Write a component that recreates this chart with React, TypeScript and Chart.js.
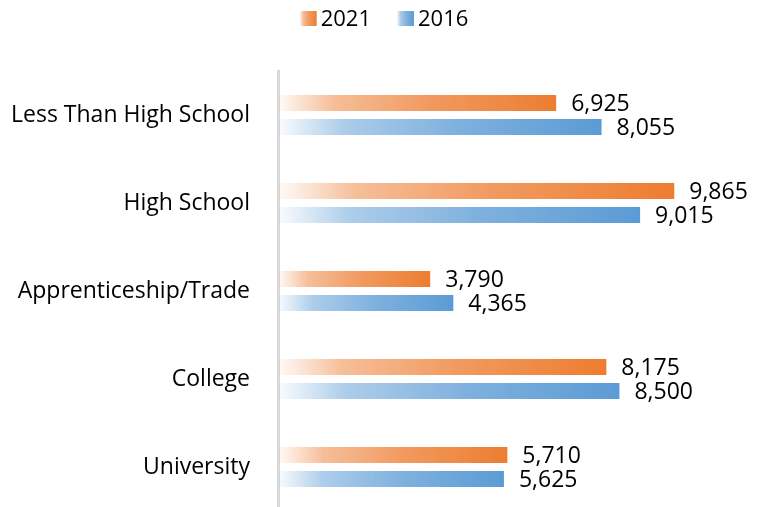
import React, { useEffect, useRef } from "react";
import { Chart, registerables } from "chart.js";

Chart.register(...registerables);

const categories = ["Less Than High School", "High School", "Apprenticeship/Trade", "College", "University"];
const values2021 = [6925, 9865, 3790, 8175, 5710];
const values2016 = [8055, 9015, 4365, 8500, 5625];
const seriesNames = ["2021", "2016"];

const ORANGE = [237, 125, 49];
const BLUE = [91, 155, 213];
const FONT = "'Open Sans', 'Liberation Sans', sans-serif";

function rgba(c: number[], a: number) {
  return `rgba(${c[0]},${c[1]},${c[2]},${a})`;
}

function makeGradient(g: CanvasGradient, c: number[]) {
  g.addColorStop(0, rgba(c, 0.03));
  g.addColorStop(0.2, rgba(c, 0.5));
  g.addColorStop(0.55, rgba(c, 0.78));
  g.addColorStop(1, rgba(c, 1));
  return g;
}

function barColor(c: number[]) {
  return (ctx: any) => {
    const chart = ctx.chart;
    const area = chart.chartArea;
    if (!area || ctx.type !== "data" || !chart.scales.x) return rgba(c, 1);
    const x0 = chart.scales.x.getPixelForValue(0);
    const v = ctx.parsed ? ctx.parsed.x : ctx.raw;
    const x1 = chart.scales.x.getPixelForValue(v);
    const g = chart.ctx.createLinearGradient(x0, 0, Math.max(x1, x0 + 1), 0);
    return makeGradient(g, c);
  };
}

const labelPlugin = {
  id: "barLabels",
  afterDatasetsDraw(chart: any) {
    const ctx = chart.ctx;
    ctx.save();
    ctx.font = `23px ${FONT}`;
    ctx.fillStyle = "#000";
    ctx.textAlign = "left";
    ctx.textBaseline = "middle";
    chart.data.datasets.forEach((ds: any, i: number) => {
      const meta = chart.getDatasetMeta(i);
      meta.data.forEach((bar: any, j: number) => {
        const v = ds.data[j] as number;
        ctx.fillText(v.toLocaleString("en-US"), bar.x + 15, bar.y + 1);
      });
    });
    ctx.restore();
  },
};

const legendPlugin = {
  id: "gradLegend",
  afterDraw(chart: any) {
    const ctx = chart.ctx;
    ctx.save();
    ctx.font = `22px ${FONT}`;
    ctx.textBaseline = "middle";
    ctx.textAlign = "left";
    const boxW = 17, boxH = 15, gap = 4, itemGap = 26;
    const colors = [ORANGE, BLUE];
    const widths = seriesNames.map((n) => ctx.measureText(n).width);
    const total = widths.reduce((a, w) => a + boxW + gap + w, 0) + itemGap * (seriesNames.length - 1);
    let x = chart.width / 2 - total / 2 + 3;
    const cy = 18.5;
    seriesNames.forEach((n, i) => {
      const g = ctx.createLinearGradient(x, 0, x + boxW, 0);
      makeGradient(g, colors[i]);
      ctx.fillStyle = g;
      ctx.fillRect(x, cy - boxH / 2, boxW, boxH);
      ctx.fillStyle = "#000";
      ctx.fillText(n, x + boxW + gap, cy + 1);
      x += boxW + gap + widths[i] + itemGap;
    });
    ctx.restore();
  },
};

export default function App() {
  const ref = useRef<HTMLCanvasElement | null>(null);
  useEffect(() => {
    if (!ref.current) return;
    const chart = new Chart(ref.current, {
      type: "bar",
      data: {
        labels: categories,
        datasets: [
          {
            label: seriesNames[0],
            data: values2021,
            backgroundColor: barColor(ORANGE) as any,
            categoryPercentage: 48 / 88,
            barPercentage: 16 / 24,
          },
          {
            label: seriesNames[1],
            data: values2016,
            backgroundColor: barColor(BLUE) as any,
            categoryPercentage: 48 / 88,
            barPercentage: 16 / 24,
          },
        ],
      },
      options: {
        indexAxis: "y",
        responsive: false,
        animation: false,
        layout: { padding: { top: 71, right: 2, bottom: 4, left: 0 } },
        plugins: {
          legend: { display: false },
          tooltip: { enabled: false },
        },
        scales: {
          x: { display: false, min: 0, max: 12000 },
          y: {
            afterFit: (scale: any) => {
              scale.width = 278;
              scale.paddingTop = 0;
              scale.paddingBottom = 0;
            },
            grid: { display: false, drawTicks: true, tickLength: 28 },
            border: { display: true, color: "#d9d9d9", width: 3 },
            ticks: {
              padding: 0,
              color: "#000",
              font: { family: FONT, size: 23 },
            },
          },
        },
      },
      plugins: [labelPlugin, legendPlugin],
    });
    return () => chart.destroy();
  }, []);
  return (
    <div style={{ position: "fixed", left: 0, top: 0, width: 762, height: 515, overflow: "hidden", background: "#fff" }}>
      <canvas ref={ref} width={762} height={515} style={{ display: "block" }} />
    </div>
  );
}
